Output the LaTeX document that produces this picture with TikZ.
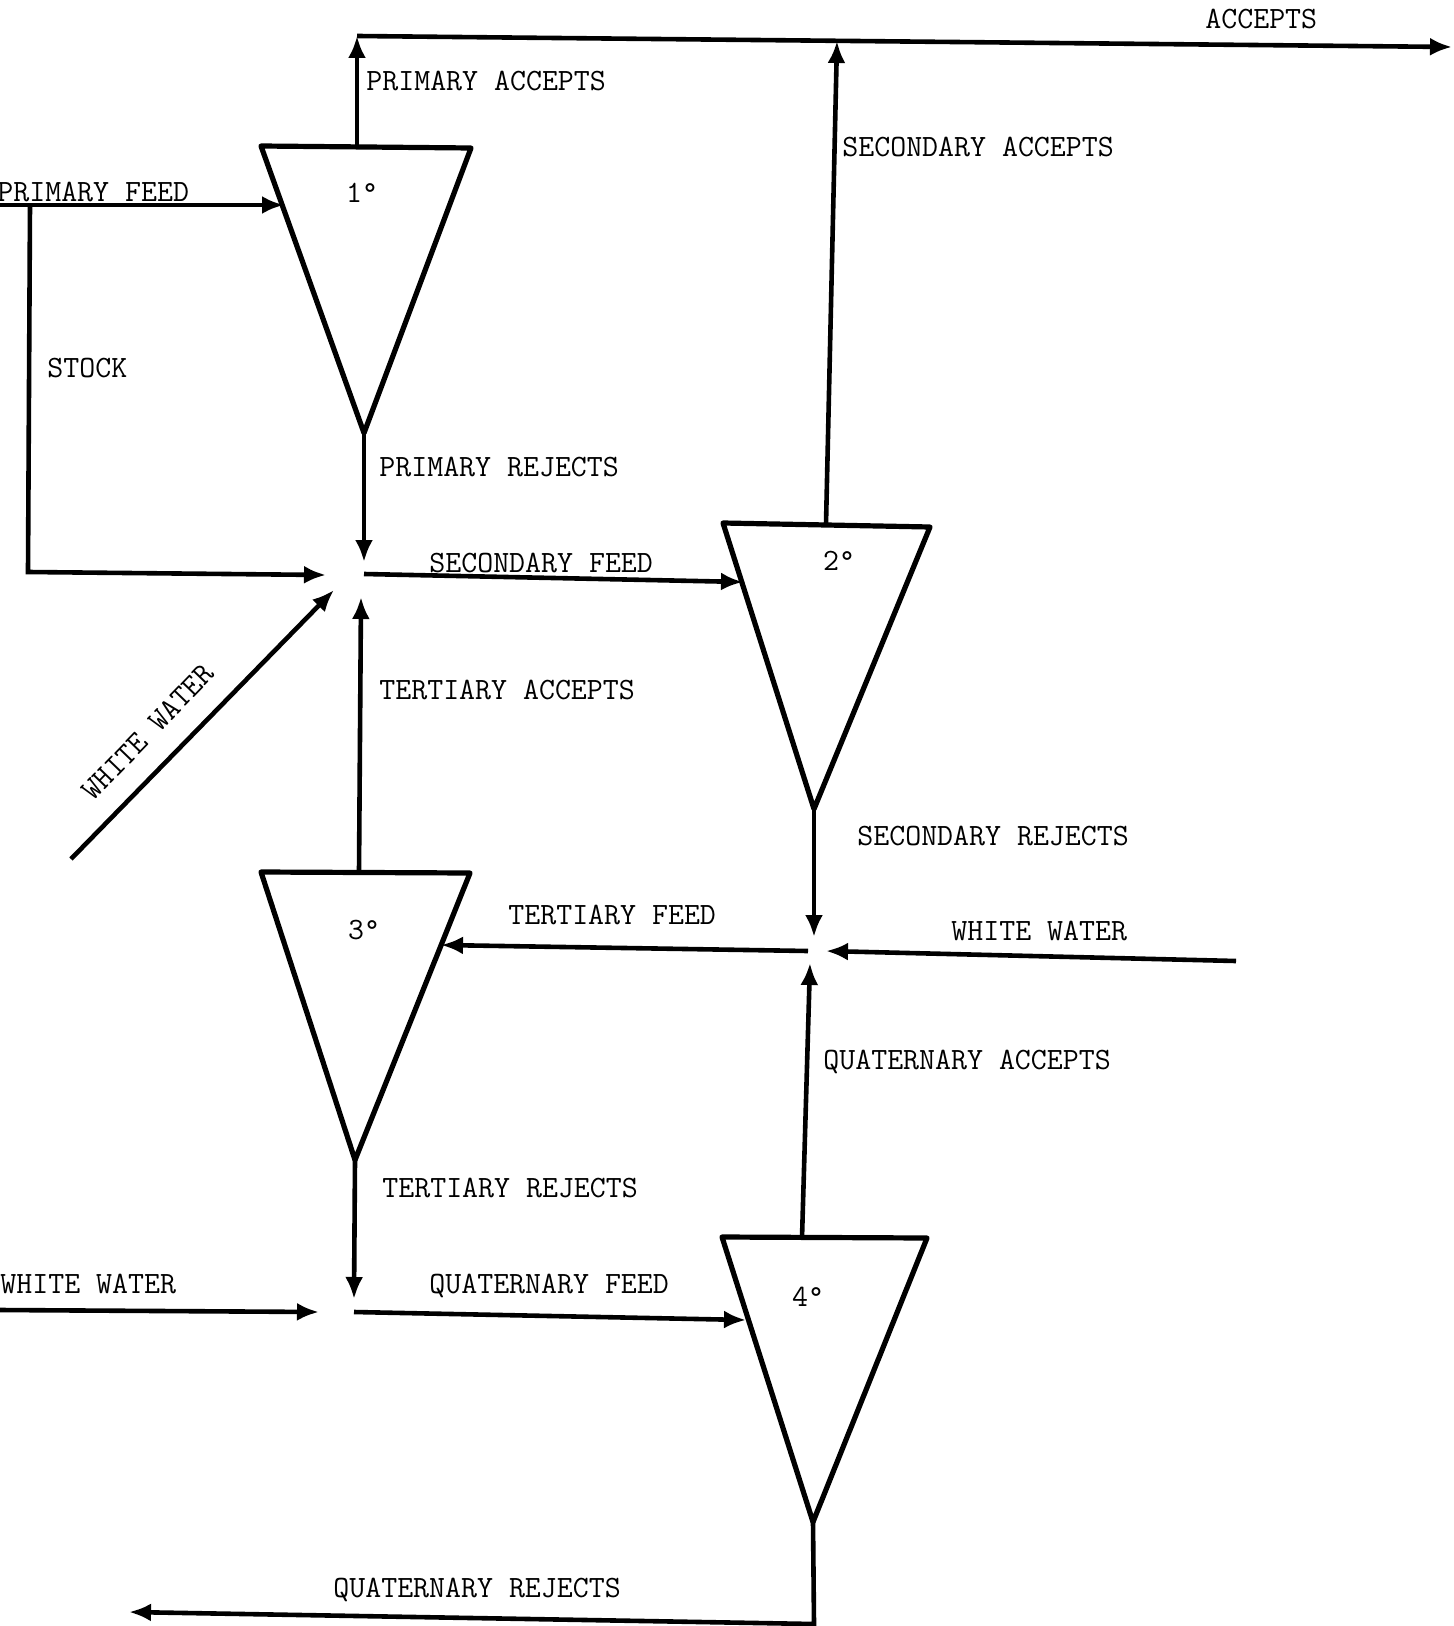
\documentclass[tikz,border=0pt]{standalone}
\usepackage{fontspec}
\usetikzlibrary{arrows.meta}
\begin{document}
\begin{tikzpicture}[x=0.5pt,y=-0.5pt,
  flow/.style={line width=2.3pt,-{Latex[length=11pt,width=9pt]}},
  screen/.style={line width=2.6pt,line join=round},
  lbl/.style={anchor=base west,inner sep=0pt,font=\fontsize{15.5pt}{18pt}\selectfont\ttfamily},
  deg/.style={anchor=center,inner sep=0pt,font=\fontsize{15.5pt}{18pt}\selectfont\ttfamily}]
\useasboundingbox (0,0) rectangle (1454,1626);
\fill[white] (0,0) rectangle (1454,1626);
\clip (0,0) rectangle (1454,1626);

% screens (triangles)
\coordinate (a1) at (261,146); \coordinate (b1) at (471,148); \coordinate (c1) at (364,433);
\coordinate (a2) at (723,523); \coordinate (b2) at (930,527); \coordinate (c2) at (814,809);
\coordinate (a3) at (261,872); \coordinate (b3) at (470,873); \coordinate (c3) at (355,1160);
\coordinate (a4) at (722,1237); \coordinate (b4) at (927,1238); \coordinate (c4) at (813,1522);
\draw[screen] (a1) -- (b1) -- (c1) -- cycle;
\draw[screen] (a2) -- (b2) -- (c2) -- cycle;
\draw[screen] (a3) -- (b3) -- (c3) -- cycle;
\draw[screen] (a4) -- (b4) -- (c4) -- cycle;
\node[deg] (n1) at (362,193) {1°};
\node[deg] (n2) at (839,561) {2°};
\node[deg] (n3) at (364,930) {3°};
\node[deg] (n4) at (808,1297) {4°};

% points
\coordinate (t1) at (357,147);   \coordinate (top1) at (357,36);
\coordinate (t2) at (826,524);   \coordinate (top2) at (837,41);
\coordinate (outR) at (1452,47);
\coordinate (pfS) at (0,205);    \coordinate (pfE) at (284,205);
\coordinate (stA) at (30,205);   \coordinate (stB) at (28,572);  \coordinate (stE) at (326,575);
\coordinate (prE) at (364,562);
\coordinate (sfS) at (364,574);  \coordinate (sfE) at (743,582);
\coordinate (wwS) at (71,859);   \coordinate (wwE) at (334,590);
\coordinate (t3) at (359,872);   \coordinate (taE) at (361,597);
\coordinate (srE) at (814,937);
\coordinate (wrS) at (1236,961); \coordinate (wrE) at (826,951);
\coordinate (tfS) at (808,951);  \coordinate (tfE) at (441,945);
\coordinate (t4) at (802,1238);  \coordinate (qaE) at (810,963);
\coordinate (trE) at (354,1299);
\coordinate (wlS) at (0,1310);   \coordinate (wlE) at (319,1312);
\coordinate (qfS) at (354,1312); \coordinate (qfE) at (746,1320);
\coordinate (qrB) at (814,1624); \coordinate (qrE) at (129,1612);

% connectors
\draw[flow] (t1) -- (top1);
\draw[flow] (top1) -- (outR);
\draw[flow] (t2) -- (top2);
\draw[flow] (pfS) -- (pfE);
\draw[flow] (stA) -- (stB) -- (stE);
\draw[flow] (c1) -- (prE);
\draw[flow] (sfS) -- (sfE);
\draw[flow] (wwS) -- (wwE);
\draw[flow] (t3) -- (taE);
\draw[flow] (c2) -- (srE);
\draw[flow] (wrS) -- (wrE);
\draw[flow] (tfS) -- (tfE);
\draw[flow] (t4) -- (qaE);
\draw[flow] (c3) -- (trE);
\draw[flow] (wlS) -- (wlE);
\draw[flow] (qfS) -- (qfE);
\draw[flow] (c4) -- (qrB) -- (qrE);

% labels
\node[lbl] (lAcc) at (1205,29) {ACCEPTS};
\node[lbl] (lPA) at (366,91) {PRIMARY ACCEPTS};
\node[lbl] (lSA) at (842,157) {SECONDARY ACCEPTS};
\node[lbl] (lPF) at (-3,202) {PRIMARY FEED};
\node[lbl] (lST) at (47,378) {STOCK};
\node[lbl] (lPR) at (379,476) {PRIMARY REJECTS};
\node[lbl] (lSF) at (429,572) {SECONDARY FEED};
\node[deg,rotate=46] (lWW1) at (148,732) {WHITE WATER};
\node[lbl] (lTA) at (379,699) {TERTIARY ACCEPTS};
\node[lbl] (lSR) at (857,845) {SECONDARY REJECTS};
\node[lbl] (lTF) at (508,924) {TERTIARY FEED};
\node[lbl] (lWW2) at (951,940) {WHITE WATER};
\node[lbl] (lQA) at (823,1069) {QUATERNARY ACCEPTS};
\node[lbl] (lTR) at (382,1197) {TERTIARY REJECTS};
\node[lbl] (lWW3) at (0,1293) {WHITE WATER};
\node[lbl] (lQF) at (429,1293) {QUATERNARY FEED};
\node[lbl] (lQR) at (333,1597) {QUATERNARY REJECTS};
\end{tikzpicture}
\end{document}
